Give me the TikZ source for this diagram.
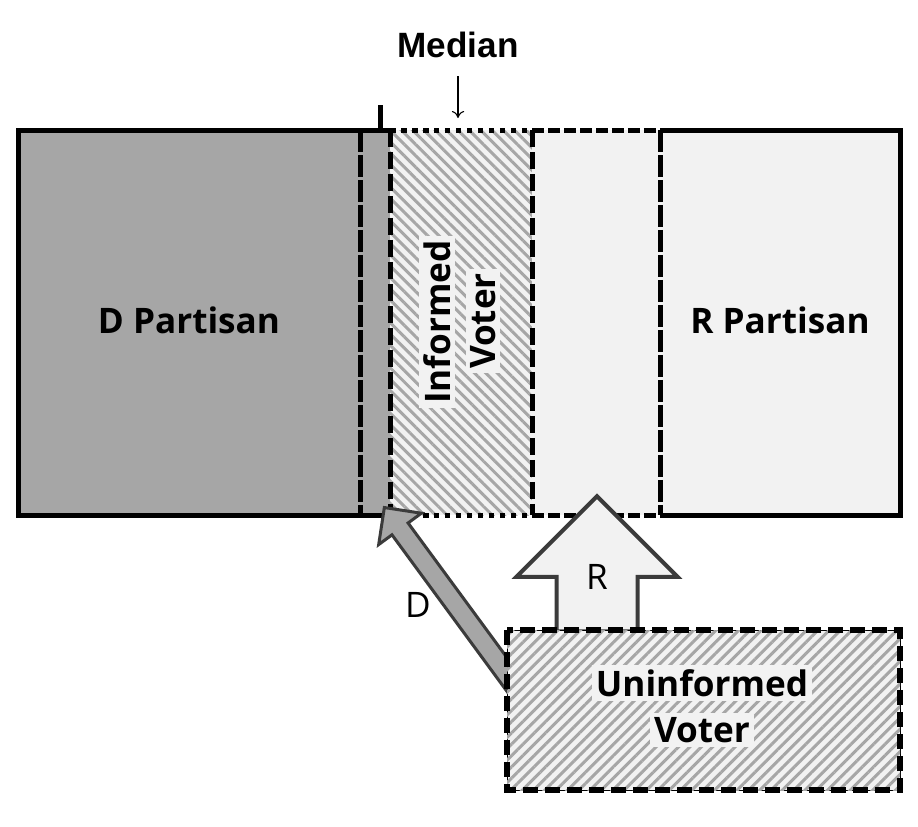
\documentclass[tikz,border=0pt]{standalone}
\usepackage{fontspec}
\setsansfont{Open Sans}
\newfontfamily\medianfont{Liberation Sans}
\usepackage{tikz}
\usetikzlibrary{shapes.arrows, arrows.meta, patterns.meta, calc}
\definecolor{dgray}{HTML}{A6A6A6}
\definecolor{lgray}{HTML}{F2F2F2}
\definecolor{agray}{HTML}{3B3B3B}

\begin{document}
\begin{tikzpicture}[
  x=0.02cm, y=-0.02cm,
  border/.style={line width=0.1cm},
  longdash/.style={border, dash pattern=on 0.44cm off 0.06cm},
  middash/.style={border, dash pattern=on 0.34cm off 0.1cm},
  shortdash/.style={border, dash pattern=on 0.24cm off 0.08cm},
  dotline/.style={border, dash pattern=on 0.11cm off 0.11cm},
  hatchNW/.style={fill=lgray, postaction={pattern={Lines[angle=-45, distance=0.16cm, line width=0.06cm]}, pattern color=dgray}},
  hatchNE/.style={fill=lgray, postaction={pattern={Lines[angle=45, distance=0.16cm, line width=0.06cm]}, pattern color=dgray}},
  lbl/.style={font=\sffamily\bfseries\fontsize{20}{22}\selectfont, inner sep=0.08cm},
  thinlbl/.style={font=\sffamily\fontsize{20}{22}\selectfont, inner sep=0pt},
  blockarrow/.style={single arrow, draw=agray, inner xsep=0pt, line join=miter}
]
  \useasboundingbox (0,0) rectangle (918,826);

  % the spectrum
  \fill[dgray] (18,130) rectangle (390,515);
  \fill[hatchNW] (390,130) rectangle (532,515);
  \fill[lgray] (532,130) rectangle (900,515);

  \draw[border] (390,130) -- (18,130) -- (18,515) -- (390,515);
  \draw[border] (660,130) -- (900,130) -- (900,515) -- (660,515);
  \draw[dotline] (390,130) -- (532,130) (390,515) -- (532,515);
  \draw[shortdash] (532,130) -- (660,130) (532,515) -- (660,515);
  \draw[longdash] (360,130) -- (360,515);
  \draw[middash] (390,130) -- (390,515);
  \draw[middash] (532,130) -- (532,515);
  \draw[longdash] (660,130) -- (660,515);

  \coordinate (tick) at (380,130);
  \draw[border] (tick) -- ++(0,-25);

  \node[lbl, font=\medianfont\bfseries\fontsize{20}{22}\selectfont] (median) at (458,45) {Median};
  \coordinate (mtip) at (458,118);
  \draw[semithick, -{To[length=4pt, width=7pt]}] ($(median.south)+(0,14)$) -- (mtip);

  \node[lbl] (dpart) at (189,320) {D Partisan};
  \node[lbl, fill=lgray] (rpart) at (780,320) {R Partisan};
  \node[lbl, fill=lgray, rotate=90] (inf1) at (437,322) {Informed};
  \node[lbl, fill=lgray, rotate=90] (inf2) at (483,321) {Voter};

  % the uninformed voter moves
  \node[blockarrow, fill=dgray, line width=0.06cm, rotate=126.3, inner ysep=0.17cm,
        minimum height=4.44cm, single arrow head extend=0.33cm] (darrow) at (453,601) {};
  \node[thinlbl] (dlbl) at (418,605) {D};
  \node[blockarrow, fill=lgray, line width=0.08cm, rotate=90, inner ysep=0.77cm,
        minimum height=2.7cm, single arrow head extend=0.8cm] (rarrow) at (597,584) {};
  \node[thinlbl] (rlbl) at (597,577) {R};

  \draw[hatchNE] (507,630) rectangle (900,790);
  \draw[border, line width=0.12cm, dash pattern=on 0.3cm off 0.14cm] (507,630) rectangle (900,790);
  \node[lbl, fill=lgray] (uninf1) at (702,683) {Uninformed};
  \node[lbl, fill=lgray] (uninf2) at (702,730) {Voter};
\end{tikzpicture}
\end{document}
